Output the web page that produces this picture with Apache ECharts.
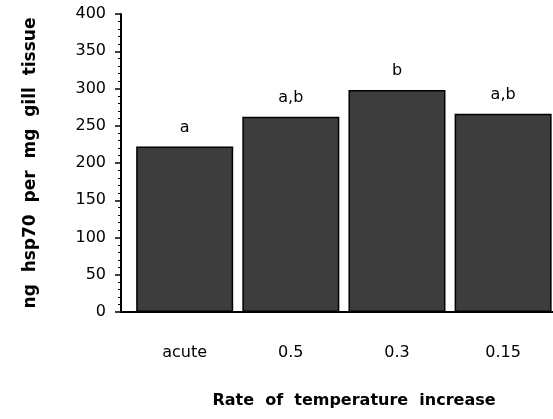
<!DOCTYPE html>
<html>
<head>
<meta charset="utf-8">
<script src="https://cdn.jsdelivr.net/npm/echarts@6/dist/echarts.min.js"></script>
<style>
  html, body { margin: 0; padding: 0; background: #fff; }
  #main { width: 553px; height: 419px; }
</style>
</head>
<body>
<div id="main"></div>
<script>
// data
const categories = ['acute', '0.5', '0.3', '0.15'];
const hsp70 = [222, 262, 298, 266];
const letters = ['a', 'a,b', 'b', 'a,b'];
const yTicks = [0, 50, 100, 150, 200, 250, 300, 350, 400];

const chart = echarts.init(document.getElementById('main'));
const font = 'DejaVu Sans';

const option = {
  backgroundColor: '#fff',
  animation: false,
  grid: { left: 121, right: 0, top: 14, bottom: 107, containLabel: false },
  xAxis: {
    type: 'value',
    min: -0.6,
    max: 3.47,
    splitLine: { show: false },
    axisLine: { show: true, onZero: false, lineStyle: { color: '#000', width: 2 } },
    axisTick: { show: false },
    axisLabel: {
      customValues: categories.map((c, i) => i),
      formatter: (v) => categories[Math.round(v)],
      margin: 33,
      color: '#000',
      fontFamily: font,
      fontSize: 16,
    },
    name: 'Rate  of  temperature  increase',
    nameLocation: 'middle',
    nameGap: 81,
    nameTextStyle: {
      color: '#000',
      fontFamily: font,
      fontWeight: 'bold',
      fontSize: 16,
      padding: [0, 0, 0, 34],
    },
  },
  yAxis: {
    type: 'value',
    min: 0,
    max: 400,
    interval: 50,
    splitLine: { show: false },
    axisLine: { show: true, onZero: false, lineStyle: { color: '#000', width: 2 } },
    axisTick: { show: true, length: 6, lineStyle: { color: '#000', width: 1.5 } },
    minorTick: { show: true, splitNumber: 5, length: 3, lineStyle: { color: '#000' } },
    axisLabel: {
      margin: 15,
      color: '#000',
      fontFamily: font,
      fontSize: 16,
      formatter: (v) => (yTicks.includes(v) ? String(v) : ''),
    },
    name: 'ng  hsp70  per  mg  gill  tissue',
    nameLocation: 'middle',
    nameGap: 82,
    nameTextStyle: {
      color: '#000',
      fontFamily: font,
      fontWeight: 'bold',
      fontSize: 17,
      padding: [0, 0, 0, 0],
    },
  },
  series: [
    {
      type: 'bar',
      barWidth: 97,
      data: hsp70.map((v, i) => [i, v]),
      itemStyle: { color: '#3d3d3d', borderColor: '#000', borderWidth: 1.5 },
      label: {
        show: true,
        position: 'top',
        distance: 11,
        color: '#000',
        fontFamily: font,
        fontSize: 16,
        formatter: (p) => letters[p.dataIndex],
      },
    },
  ],
};

chart.setOption(option);
</script>
</body>
</html>
